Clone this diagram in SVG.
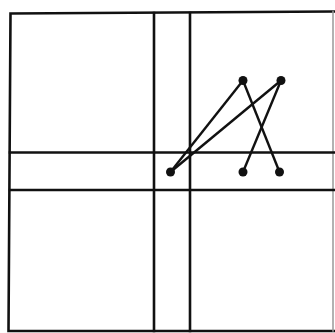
<svg xmlns="http://www.w3.org/2000/svg" width="335" height="333" viewBox="0 0 335 333">
<style>
.l{stroke:#111;stroke-width:2.6;fill:none;stroke-linecap:square}
.c{stroke:#111;stroke-width:2.4;fill:none}
.d{fill:#111}
</style>
<rect width="335" height="333" fill="#fff"/>
<g id="grid">
<path class="l" d="M10.5,13.5 L334,11.5 M8.5,331 L10.5,13.5 M8.5,331 L334,331"/>
<line class="l" x1="333" y1="11.5" x2="333" y2="331" style="stroke:#999;stroke-width:1.5"/>
<line class="l" x1="154" y1="13" x2="154" y2="331"/>
<line class="l" x1="190" y1="13" x2="190" y2="331"/>
<line class="l" x1="10" y1="152.5" x2="334" y2="152.5"/>
<line class="l" x1="10" y1="190" x2="334" y2="190"/>
</g>
<g id="connectors">
<line class="c" x1="170.5" y1="172" x2="243" y2="80.5"/>
<line class="c" x1="170.5" y1="172" x2="281" y2="80.5"/>
<line class="c" x1="243" y1="80.5" x2="279.5" y2="172"/>
<line class="c" x1="281" y1="80.5" x2="243" y2="172"/>
</g>
<g id="n1"><circle class="d" cx="243" cy="80.5" r="4.5"/></g>
<g id="n2"><circle class="d" cx="281" cy="80.5" r="4.5"/></g>
<g id="n3"><circle class="d" cx="170.5" cy="172" r="4.5"/></g>
<g id="n4"><circle class="d" cx="243" cy="172" r="4.5"/></g>
<g id="n5"><circle class="d" cx="279.5" cy="172" r="4.5"/></g>
</svg>
